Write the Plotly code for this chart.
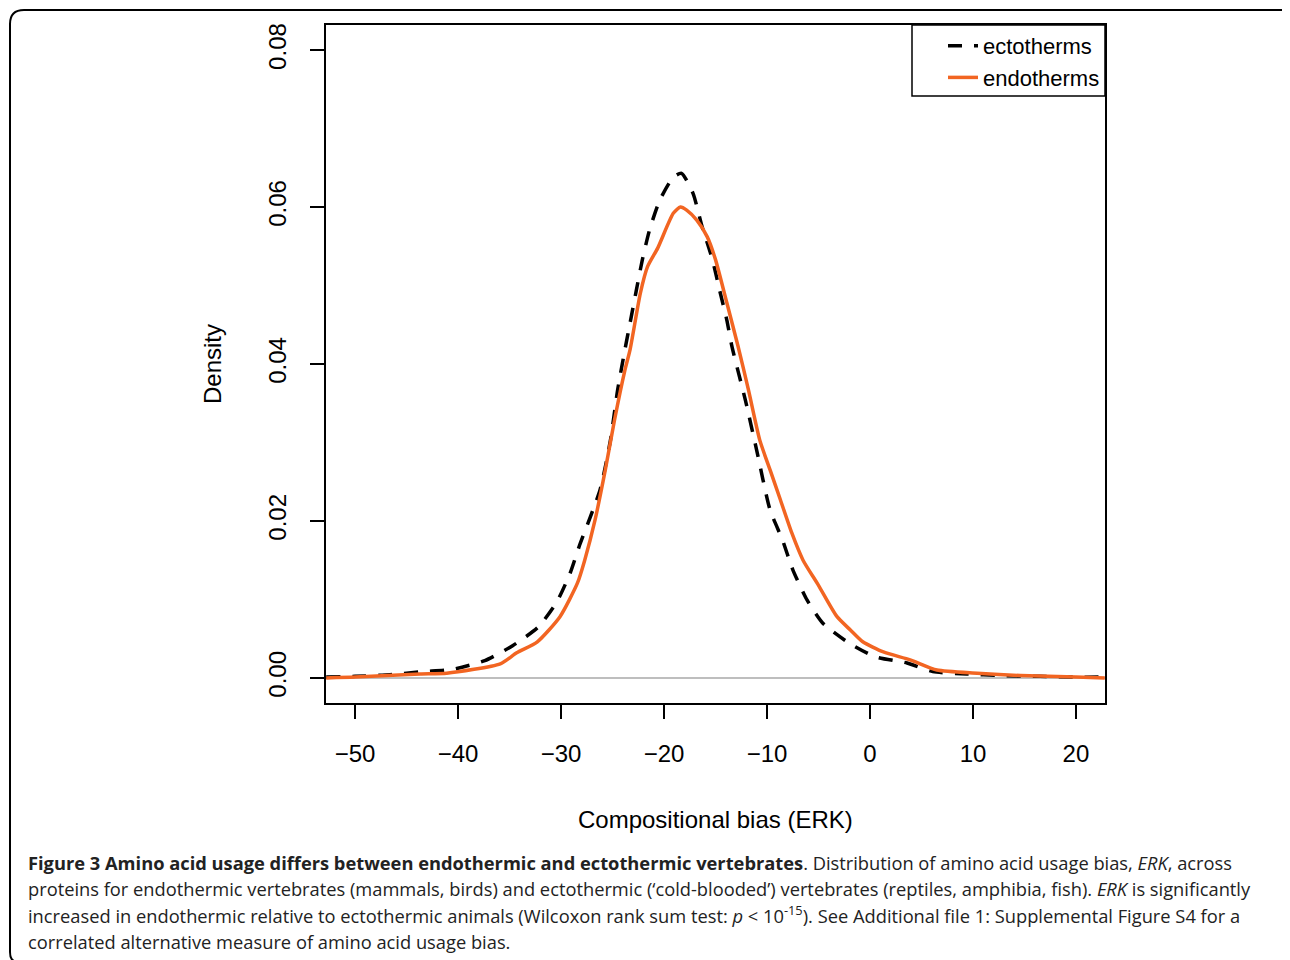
import plotly.graph_objects as go

# ---- data ----
ecto_x = [-52.8, -50.0, -46.6, -43.4, -40.5, -37.4, -34.7, -32.2, -30.4, -29.1, -28.2,
          -26.2, -25.2, -24.5, -23.8, -23.3, -22.1, -21.4, -20.4, -19.1, -18.3, -17.2,
          -16.3, -15.3, -14.6, -13.9, -13.4, -12.1, -11.0, -9.7, -8.5, -7.5, -6.1, -4.6,
          -2.1, 0.5, 3.6, 6.1, 9.4, 12.6, 16.5, 20.0, 22.8]
ecto_y = [0.0001, 0.0002, 0.0004, 0.0008, 0.0011, 0.0022, 0.0041, 0.0065, 0.0097, 0.0134, 0.0169,
          0.0240, 0.0303, 0.0367, 0.0418, 0.0452, 0.0533, 0.0571, 0.0609, 0.0638, 0.0643, 0.0618,
          0.0575, 0.0533, 0.0494, 0.0456, 0.0422, 0.0354, 0.0290, 0.0214, 0.0176, 0.0138, 0.0099, 0.0070,
          0.0045, 0.0027, 0.0019, 0.0008, 0.0005, 0.0003, 0.0002, 0.0001, 0.0001]

endo_x = [-52.8, -50.0, -43.7, -41.1, -35.9, -34.3, -32.3, -30.1, -28.4, -27.7, -26.7,
          -25.7, -24.8, -23.8, -23.3, -22.3, -21.6, -20.6, -19.1, -18.4, -17.8, -16.8,
          -15.8, -15.0, -13.9, -12.8, -11.8, -10.7, -9.7, -8.7, -7.6, -6.5, -5.0, -3.2,
          -1.9, -0.7, 1.3, 3.9, 6.5, 10.4, 14.6, 20.0, 22.8]
endo_y = [0.0000, 0.0001, 0.0005, 0.0006, 0.0018, 0.0032, 0.0046, 0.0078, 0.0121, 0.0150, 0.0201,
          0.0265, 0.0329, 0.0392, 0.0418, 0.0490, 0.0524, 0.0548, 0.0592, 0.0600, 0.0596, 0.0583,
          0.0562, 0.0533, 0.0478, 0.0422, 0.0367, 0.0303, 0.0265, 0.0227, 0.0185, 0.0150, 0.0118, 0.0078,
          0.0061, 0.0046, 0.0033, 0.0023, 0.0010, 0.0006, 0.0003, 0.0001, 0.0000]

x_ticks = [-50, -40, -30, -20, -10, 0, 10, 20]
y_ticks = [0.00, 0.02, 0.04, 0.06, 0.08]
series_names = ["ectotherms", "endotherms"]

caption_lines = [
    "<b>Figure 3 Amino acid usage differs between endothermic and ectothermic vertebrates</b>. "
    "Distribution of amino acid usage bias, <i>ERK</i>, across",
    "proteins for endothermic vertebrates (mammals, birds) and ectothermic (\u2018cold-blooded\u2019) "
    "vertebrates (reptiles, amphibia, fish). <i>ERK</i> is significantly",
    "increased in endothermic relative to ectothermic animals (Wilcoxon rank sum test: <i>p</i> &lt; "
    "10<sup>-15</sup>). See Additional file 1: Supplemental Figure S4 for a",
    "correlated alternative measure of amino acid usage bias.",
]

# ---- layout geometry (reference page pixels; page body has an 8px margin) ----
OFF = 8
W, H = 1290 - OFF, 960 - OFF
PL, PR, PT, PB = 326, 1105, 25, 703


def px(xp):
    return (xp - PL) / (PR - PL)


def py(yp):
    return (PB - yp) / (PB - PT)


ORANGE = "#F26522"
AXFONT = dict(family="Liberation Sans, Arial, sans-serif", size=24, color="black")

fig = go.Figure()
fig.add_trace(go.Scatter(x=ecto_x, y=ecto_y, mode="lines", name=series_names[0],
                         line=dict(color="black", width=3.5, dash="14px,12px",
                                   shape="spline", smoothing=0.6)))
fig.add_trace(go.Scatter(x=endo_x, y=endo_y, mode="lines", name=series_names[1],
                         line=dict(color=ORANGE, width=3.5, shape="spline", smoothing=0.6)))

fig.update_layout(
    width=W, height=H,
    margin=dict(l=PL - OFF, r=W - (PR - OFF), t=PT - OFF, b=H - (PB - OFF), autoexpand=False),
    paper_bgcolor="white", plot_bgcolor="white",
    showlegend=True,
    legend=dict(x=1, y=1, xanchor="right", yanchor="top",
                borderwidth=0, bgcolor="rgba(0,0,0,0)",
                font=dict(family="Liberation Sans, Arial, sans-serif", size=22, color="black"),
                tracegroupgap=0, itemwidth=30),
    xaxis=dict(range=[-52.82, 22.82], tickvals=x_ticks, ticks="outside", ticklen=14,
               tickwidth=1.5, tickcolor="black", showline=True, linecolor="black",
               linewidth=1.5, mirror=True, showgrid=False, zeroline=False,
               tickfont=AXFONT, ticklabelstandoff=14),
    yaxis=dict(range=[-0.0032, 0.0832], tickvals=y_ticks, tickformat=".2f", ticks="outside",
               ticklen=14, tickwidth=1.5, tickcolor="black", showline=True, linecolor="black",
               linewidth=1.5, mirror=True, showgrid=False, zeroline=True,
               zerolinecolor="#BEBEBE", zerolinewidth=1.5, tickangle=-90,
               tickfont=AXFONT, ticklabelstandoff=15),
)

# legend box (R style)
fig.add_shape(type="rect", xref="paper", yref="paper",
              x0=px(912), x1=px(1105), y0=py(96), y1=py(25),
              line=dict(color="black", width=1.5), fillcolor="white", layer="below")

# axis titles
fig.add_annotation(x=px((PL + PR) / 2), y=py(819), xref="paper", yref="paper",
                   text="Compositional bias (ERK)", showarrow=False,
                   xanchor="center", yanchor="middle", font=AXFONT)
fig.add_annotation(x=px(212), y=py(364), xref="paper", yref="paper",
                   text="Density", showarrow=False, textangle=-90,
                   xanchor="center", yanchor="middle", font=AXFONT)

# caption
cap_y = [862, 888, 914, 941]
for line, yy in zip(caption_lines, cap_y):
    fig.add_annotation(x=px(26), y=py(yy), xref="paper", yref="paper", text=line,
                       showarrow=False, xanchor="left", yanchor="middle", align="left",
                       font=dict(family="Open Sans, Noto Sans, sans-serif", size=18.3,
                                 color="#222222"))

# outer frame (rounded corner)
fx0, fy0, fx1, fy1 = 10, 10, 1288, 962
path = (f"M {px(fx1 + 2)},{py(fy0 + 3)} L {px(fx1)},{py(fy0)} L {px(fx0 + 14)},{py(fy0)} "
        f"Q {px(fx0)},{py(fy0)} {px(fx0)},{py(fy0 + 14)} L {px(fx0)},{py(fy1 - 10)} "
        f"Q {px(fx0)},{py(fy1)} {px(fx0 + 8)},{py(fy1)}")
fig.add_shape(type="path", path=path, xref="paper", yref="paper",
              line=dict(color="black", width=2))

fig.write_html("out.html")
